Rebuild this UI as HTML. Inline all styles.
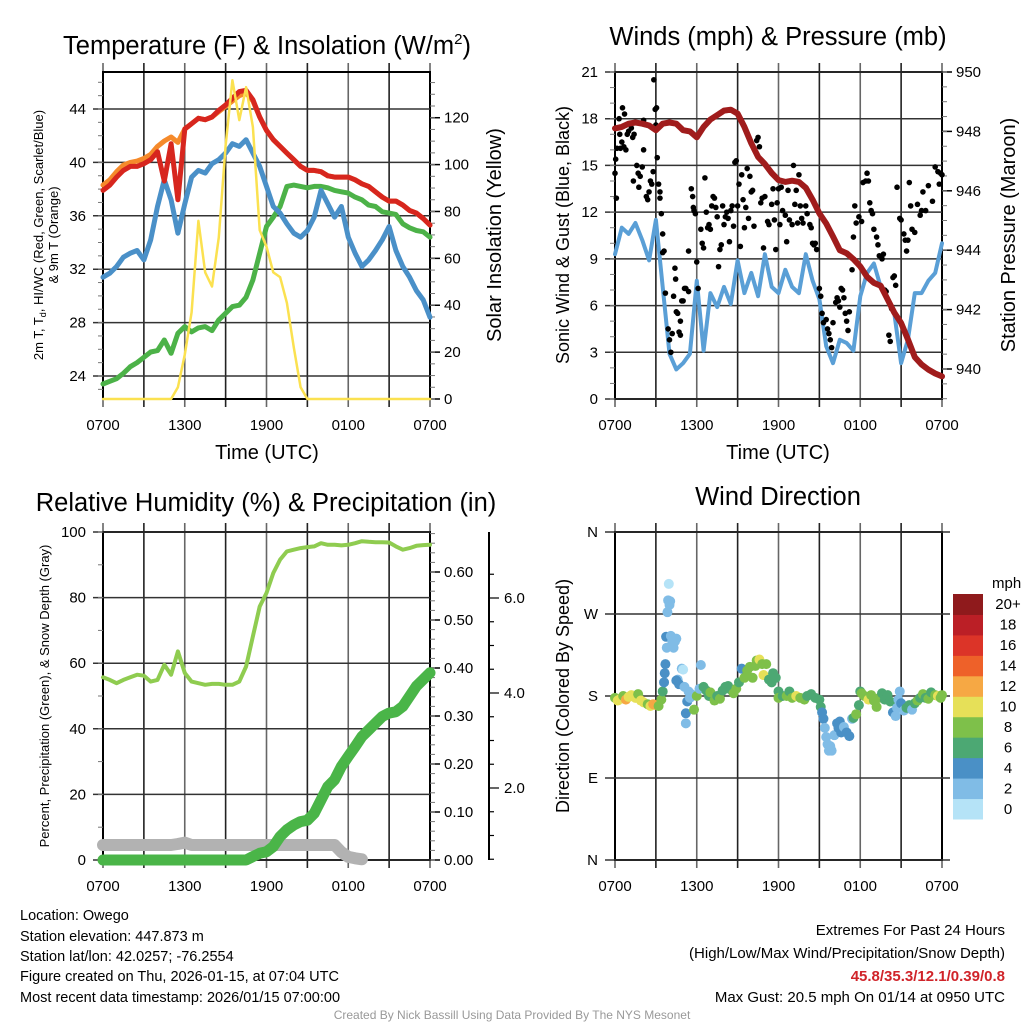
<!DOCTYPE html>
<html><head><meta charset="utf-8"><style>
html,body{margin:0;padding:0;background:#fff;}
svg{display:block;font-family:"Liberation Sans",sans-serif;}
</style></head><body>
<svg id="c" width="1024" height="1024" viewBox="0 0 1024 1024" xmlns="http://www.w3.org/2000/svg">
<rect width="1024" height="1024" fill="#fff"/>
<text x="267" y="54" font-size="25.5" text-anchor="middle">Temperature (F) &amp; Insolation (W/m<tspan font-size="15" dy="-10">2</tspan><tspan dy="10">)</tspan></text>
<text x="778" y="45" font-size="25.5" text-anchor="middle">Winds (mph) &amp; Pressure (mb)</text>
<text x="266" y="511" font-size="25.5" text-anchor="middle">Relative Humidity (%) &amp; Precipitation (in)</text>
<text x="778" y="505" font-size="25.5" text-anchor="middle">Wind Direction</text>
<text x="267" y="459" font-size="20" text-anchor="middle">Time (UTC)</text>
<text x="778" y="459" font-size="20" text-anchor="middle">Time (UTC)</text>
<text transform="translate(43,235) rotate(-90)" font-size="13" text-anchor="middle">2m T, T<tspan font-size="9" dy="3">d</tspan><tspan dy="-3">, HI/WC (Red, Green, Scarlet/Blue)</tspan></text>
<text transform="translate(58,235) rotate(-90)" font-size="13" text-anchor="middle">&amp; 9m T (Orange)</text>
<text transform="translate(501,235) rotate(-90)" font-size="20" text-anchor="middle">Solar Insolation (Yellow)</text>
<text transform="translate(569,235) rotate(-90)" font-size="18" text-anchor="middle">Sonic Wind &amp; Gust (Blue, Black)</text>
<text transform="translate(1015,235) rotate(-90)" font-size="20" text-anchor="middle">Station Pressure (Maroon)</text>
<text transform="translate(49,696) rotate(-90)" font-size="13" text-anchor="middle">Percent, Precipitation (Green), &amp; Snow Depth (Gray)</text>
<text transform="translate(569,696) rotate(-90)" font-size="18" text-anchor="middle">Direction (Colored By Speed)</text>
<text x="992" y="588" font-size="15">mph</text>
<g font-size="14.5">
<text x="20" y="920">Location: Owego</text>
<text x="20" y="941">Station elevation: 447.873 m</text>
<text x="20" y="961">Station lat/lon: 42.0257; -76.2554</text>
<text x="20" y="981">Figure created on Thu, 2026-01-15, at 07:04 UTC</text>
<text x="20" y="1002">Most recent data timestamp: 2026/01/15 07:00:00</text>
</g>
<g font-size="15" text-anchor="end">
<text x="1005" y="935">Extremes For Past 24 Hours</text>
<text x="1005" y="958">(High/Low/Max Wind/Precipitation/Snow Depth)</text>
<text x="1005" y="981" fill="#d0242a" font-weight="bold">45.8/35.3/12.1/0.39/0.8</text>
<text x="1005" y="1002">Max Gust: 20.5 mph On 01/14 at 0950 UTC</text>
</g>
<text x="512" y="1019" font-size="12" fill="#999" text-anchor="middle">Created By Nick Bassill Using Data Provided By The NYS Mesonet</text>
</svg>
<script>
const timeLabels = ["0700","1300","1900","0100","0700"];
const tempRed = [37.9,38.3,38.9,39.4,39.7,39.7,39.9,40.2,40.8,38.6,41.4,37.2,42.5,42.9,43.3,43.2,43.4,43.9,44.3,44.8,45.3,45.4,44.7,43.4,42.4,41.7,41.2,40.7,40.2,39.7,39.4,39.4,39.3,39.0,38.9,38.9,38.9,38.7,38.4,38.2,37.8,37.4,37.1,37.1,36.8,36.4,36.2,35.8,35.3];
const temp9m = [38.3,38.7,39.3,39.8,40.0,40.1,40.3,40.6,41.2,41.6,41.9,41.5,42.5,42.9,43.3,43.2,43.4,43.8,44.2,44.6,45.0,45.2,44.6,43.4,42.4,41.7,41.2,40.7,40.2,39.7,39.4,39.4,39.3,39.0,38.9,38.9,38.9,38.7,38.4,38.2,37.8,37.4,37.1,37.1,36.8,36.4,36.2,35.8,35.3];
const windChill = [31.4,31.7,32.2,32.9,33.2,33.4,32.7,34.2,36.7,38.7,37.2,34.7,36.9,38.9,39.4,39.2,39.9,40.2,40.7,41.4,41.2,41.7,40.7,39.7,38.2,36.7,36.2,35.4,34.7,34.4,34.9,35.9,37.9,36.9,35.9,36.7,34.4,33.2,32.2,32.7,33.4,34.2,35.2,33.4,32.2,31.4,30.4,29.7,28.4];
const dewpoint = [23.4,23.6,23.8,24.2,24.7,25.0,25.4,25.8,25.9,26.7,25.7,27.2,27.7,27.3,27.6,27.7,27.4,28.2,28.7,29.2,29.3,29.9,31.2,33.2,35.2,35.9,36.7,38.2,38.3,38.2,38.1,38.2,38.2,38.1,37.9,37.8,37.7,37.4,37.2,36.8,36.7,36.3,36.2,36.1,35.4,35.1,34.9,34.8,34.4];
const solar = [0,0,0,0,0,0,0,0,0,0,0,5,19,37,76,54,48,69,108,136,119,133,116,72,65,54,52,41,22,5,0,0,0,0,0,0,0,0,0,0,0,0,0,0,0,0,0,0,0];
const windSpeed = [9.3,11,10.6,11.3,10.2,8.9,11.5,7.2,2.9,1.9,2.3,2.9,7.6,3.1,6.8,5.9,7.2,6.1,8.9,6.8,8.1,6.6,9.3,7.2,6.8,8.3,7.2,6.8,9.3,7.6,6.4,3.4,2.3,3.8,3.6,3.1,6.6,8.1,8.7,7.2,6.4,5.5,2.3,3.8,6.8,6.8,7.6,8.1,10];
const pressure = [948.1,948.15,948.26,948.3,948.26,948.2,948.04,948.26,948.3,948.26,948.04,948.0,947.8,948.15,948.4,948.55,948.7,948.73,948.6,948.15,947.6,947.14,946.9,946.6,946.36,946.3,946.34,946.3,946.1,945.7,945.24,944.9,944.46,944.0,943.9,943.7,943.45,943.1,942.9,942.8,942.35,941.9,941.55,941.0,940.4,940.15,939.98,939.85,939.75];
const gustHours = [0,0.05,0.1,0.15,0.3,0.35,0.4,0.5,0.55,0.65,0.7,0.8,0.9,1.0,1.2,1.3,1.4,1.35,1.6,1.7,1.75,1.85,2.0,2.1,2.1,2.3,2.4,2.5,2.6,2.7,2.8,2.85,2.95,3.05,3.0,3.1,3.2,3.3,3.3,3.4,3.5,3.5,3.6,3.7,3.9,4.0,4.1,4.2,4.3,4.4,4.45,4.5,4.6,4.7,4.8,4.8,4.9,5.0,5.1,5.2,5.4,5.4,5.6,5.7,5.75,5.8,5.9,6.0,6.1,6.3,6.4,6.5,6.6,6.7,6.8,6.9,7.0,7.1,7.2,7.3,7.4,7.5,7.6,7.7,7.8,7.9,8.0,8.1,8.2,8.3,8.4,8.5,8.6,8.7,8.8,8.9,9.0,9.1,9.2,9.3,9.4,9.5,9.6,9.7,9.8,9.9,10.0,10.1,10.2,10.4,10.5,10.6,10.7,10.8,10.9,11.0,11.2,11.3,11.5,11.6,11.7,11.8,11.9,12.0,12.1,12.2,12.3,12.5,12.6,12.7,12.8,13.0,13.1,13.2,13.3,13.4,13.5,13.6,13.7,13.8,14.0,14.1,14.3,14.4,14.5,14.6,14.7,14.8,15.0,15.1,15.2,15.3,15.5,15.6,15.7,15.8,15.9,16.0,16.2,16.3,16.4,16.5,16.6,16.7,16.8,16.9,17.0,17.1,17.2,17.4,17.5,17.6,17.7,17.9,18.1,18.2,18.4,18.5,18.6,18.7,18.8,18.9,19.0,19.2,19.3,19.4,19.6,19.7,19.8,19.9,20.1,20.2,20.3,20.4,20.5,20.6,20.7,20.9,21.0,21.2,21.3,21.4,21.5,21.6,21.7,21.8,22.0,22.2,22.4,22.5,22.6,22.8,23.0,23.3,23.5,23.7,23.8,23.9,24.0];
const gustValues = [14.5,15.4,12.9,16.1,18,17,16.1,16.5,18.7,16.2,18.3,16,17,17.2,17.4,16.8,17,14,15,14.5,13.6,14.3,14.9,16,17.9,13,12.8,13.3,14,13.8,14.6,20.5,18.6,18.7,17.6,15.5,13.8,13.3,12.9,11.9,10.6,9.4,9.5,6.8,4.5,3.8,3.0,4.2,6.6,8.4,7.7,5.6,5.5,4.3,4.1,5,6.3,6.3,7.1,7.1,6.9,9.5,13.5,13,12.3,12.1,11.9,8.8,7.1,10.9,10,9.7,14.2,12,11,11.2,10.9,12.4,13,12.9,12.3,11.7,8.5,9.6,9.9,12.4,11.2,11.7,12,11.6,10.1,12.1,12.4,11.1,15.2,15.3,12.4,13.8,9.8,14.4,12.8,11,12.3,14.8,11.6,14.3,13.3,13.4,11.1,16.6,16.8,16.2,12.6,12.9,9.7,13,11.4,11.2,12.5,13.5,11.5,9.6,12.6,13.5,11.2,13.6,12.1,11.8,10.1,13.4,11.5,11.2,15,12.5,13.4,11.3,14.4,12.4,11.6,11.3,12.4,11.9,11.2,11,10,9.9,10,9.6,7.1,6.6,5.5,4.9,5.1,4.5,4.2,3.8,3.3,4.9,6.2,6.5,6.3,5.9,7.1,7,6.5,5.5,5,4.4,5.6,8.3,10.4,12.4,11.3,11.7,11.4,13.9,14,14.5,14,12.6,12.1,11.9,10.9,10.4,9.9,9.2,9,9.3,7,6.9,4.1,3.7,5.8,7.8,7.9,7.3,13.6,11.6,11.5,10.6,10.2,9.5,10.2,13.9,12.4,10.9,10.7,12.5,11.8,12.1,13.3,12.1,13.7,12.7,14.9,14.6,13.8,14.5,14.4];
const relHumidity = [55.7,54.9,53.9,54.9,55.7,56.5,56.2,54.4,54.9,59.5,56.5,63.6,57,54.4,53.9,53.4,53.7,53.7,53.4,53.4,54.4,59,68.2,77.3,81.4,87.5,91.6,94.1,94.6,95.1,95.4,95.6,96.6,96.1,96.1,95.9,96.1,96.6,97.2,97,96.9,96.9,96.8,95.6,94.6,95.1,95.8,96,96.1];
const precip = [0,0,0,0,0,0,0,0,0,0,0,0,0,0,0,0,0,0,0,0,0,0,0.007,0.014,0.017,0.028,0.049,0.063,0.073,0.08,0.083,0.097,0.125,0.153,0.167,0.195,0.216,0.236,0.257,0.271,0.285,0.299,0.306,0.309,0.32,0.341,0.362,0.376,0.39];
const snowDepth = [0.8,0.8,0.8,0.8,0.8,0.8,0.8,0.8,0.8,0.8,0.8,0.82,0.85,0.8,0.8,0.8,0.8,0.8,0.8,0.8,0.8,0.8,0.8,0.8,0.8,0.8,0.8,0.8,0.8,0.8,0.8,0.8,0.8,0.8,0.8,0.65,0.55,0.52,0.5];
const dirHours = [0,0.2,0.4,0.6,0.8,1.0,1.2,1.5,1.7,1.9,2.1,2.4,2.6,2.8,3.0,3.2,3.4,3.5,3.6,3.65,3.7,3.75,3.8,3.85,3.9,3.95,4.0,4.05,4.1,4.2,4.3,4.4,4.5,4.6,4.5,4.7,4.9,5.0,5.1,5.2,5.3,5.2,5.4,5.5,5.6,5.8,6.0,6.2,6.3,6.5,6.7,6.9,7.0,7.3,7.5,7.7,7.9,8.1,8.3,8.5,8.7,8.9,9.1,9.3,9.5,9.7,9.9,10.1,10.3,10.4,10.6,10.8,10.9,11.1,11.3,11.5,11.6,11.8,12.0,12.0,12.3,12.6,12.8,13.0,13.3,13.6,13.9,14.1,14.4,14.7,15.0,15.1,15.2,15.3,15.4,15.5,15.6,15.7,15.8,15.9,16.1,16.3,16.4,16.5,16.6,16.8,17.0,17.2,17.4,17.5,17.7,17.9,18.0,18.1,18.3,18.6,18.8,19.0,19.2,19.4,19.6,19.8,20.0,20.2,20.4,20.6,20.7,20.8,20.9,21.0,21.2,21.4,21.6,21.8,22.0,22.2,22.4,22.6,22.8,23.0,23.2,23.5,23.7,23.9,24.0];
const dirDegrees = [178,175,177,180,176,179,181,178,182,175,173,171,169,171,170,169,176,185,195,205,215,245,233,272,285,303,280,284,246,240,233,240,243,198,197,193,210,209,190,161,174,150,185,178,182,165,180,188,214,190,186,180,184,175,180,177,186,190,191,187,183,188,195,210,200,208,212,200,213,219,220,215,203,215,198,195,205,200,185,178,180,180,185,178,180,178,176,180,182,178,176,168,162,155,145,135,127,120,125,120,137,150,145,152,140,146,140,136,155,156,160,170,185,183,180,176,181,175,168,178,183,176,181,174,162,158,167,176,185,172,164,167,170,165,172,175,178,182,178,177,184,181,180,178,181];
const dirSpeeds = [9,10,10,8,13,10,10,11,8,10,10,8,10,12,13,8,8,6,4,4,4,4,3,3,2,1,3,2,3,2,2,2,2,2,4,4,2,1,2,4,4,2,3,2,3,8,8,3,3,6,6,6,8,8,6,8,6,6,6,6,8,8,6,4,8,8,8,8,8,8,10,8,10,8,6,6,6,6,6,8,6,8,6,8,10,8,8,6,6,6,6,6,4,4,2,2,2,2,2,2,2,4,4,4,4,2,4,4,2,6,8,6,6,8,8,10,8,8,8,8,6,6,6,6,4,2,2,2,2,4,2,6,6,2,6,8,6,8,6,8,6,8,10,8,8];
const colorbarLabels = ["0","2","4","6","8","10","12","14","16","18","20+"];
const colorbarColors = ["#b5e3f7","#80bce6","#4a90c6","#4ca873","#7ec04a","#e6e058","#f6a844","#ee6129","#dc3428","#bb1f26","#8f1a1c"];

const NS = "http://www.w3.org/2000/svg";
const svg = document.getElementById('c');
function mk(tag, attrs, parent){
  const el = document.createElementNS(NS, tag);
  for (const k in attrs) el.setAttribute(k, attrs[k]);
  (parent||svg).appendChild(el);
  return el;
}
const P = {
  t: {x0:103,x1:430,y0:72,y1:399},
  w: {x0:615,x1:942,y0:72,y1:399},
  r: {x0:103,x1:430,y0:532,y1:860},
  d: {x0:615,x1:942,y0:532,y1:860}
};
function xH(p,h){ return p.x0 + h/24*(p.x1-p.x0); }
const yTemp = v => 376 - (v-24)*13.35;
const ySolar = v => 399 - v*2.344;
const yWind = v => 399 - v*(327/21);
const yPres = v => 369 - (v-940)*29.7;
const yRH = v => 860 - v*3.28;
const yPrecip = v => 860 - v*480;
const ySnow = v => 883 - v*47.5;
const yDir = v => 860 - v/360*328;

function frame(p, key){
  const g = mk('g',{});
  
  
  for (let k=0;k<=8;k++){
    const x = p.x0 + k*(p.x1-p.x0)/8;
    const l = mk('line',{x1:x,x2:x,y1:p.y0-9,y2:p.y1+8,stroke:(k%2? '#222':'#666'),'stroke-width':1.6},g);
    
    
  }
  timeLabels.forEach((t,i)=>{
    const tx = mk('text',{x:xH(p,i*6),y:p.y1+31,'font-size':15,'text-anchor':'middle'});
    tx.textContent = t;
    
    
  });
  const r = mk('rect',{x:p.x0,y:p.y0,width:p.x1-p.x0,height:p.y1-p.y0,fill:'none',stroke:'#000','stroke-width':2});
  
  
}
function hgrid(p,key,vals,yf,labelFn,side,gridOn,minorStep,minorRange){
  vals.forEach(v=>{
    const y = yf(v);
    if (gridOn){
      const l = mk('line',{x1:p.x0-10,x2:p.x1,y1:y,y2:y,stroke:'#333','stroke-width':1.5});
      
      
    } else {
      const l = mk('line',{x1:p.x1,x2:p.x1+10,y1:y,y2:y,stroke:'#000','stroke-width':1.5});
      
      
    }
    const tx = mk('text',{x: side==='l'? p.x0-17 : p.x1+14, y:y+5,'font-size':15,'text-anchor': side==='l'?'end':'start'});
    tx.textContent = labelFn(v);
    
    
  });
  if (minorStep){
    for (let v=minorRange[0]; v<=minorRange[1]+1e-9; v+=minorStep){
      const y = yf(v);
      if (y<p.y0-1||y>p.y1+1) continue;
      const x1 = side==='l'? p.x0-5 : p.x1;
      const l = mk('line',{x1:x1,x2:x1+5,y1:y,y2:y,stroke:'#777','stroke-width':1});
      
      
    }
  }
}
function line(p, arr, yf, color, w, name){
  const pts = arr.map((v,i)=>xH(p,i/2).toFixed(1)+','+yf(v).toFixed(1)).join(' ');
  const el = mk('polyline',{points:pts,fill:'none',stroke:color,'stroke-width':w,'stroke-linejoin':'round','stroke-linecap':'round'});
  
  
  return el;
}

frame(P.t,'temp');
hgrid(P.t,'temp',[24,28,32,36,40,44],yTemp,v=>String(v),'l',true,1,[23,46]);
hgrid(P.t,'solar',[0,20,40,60,80,100,120],ySolar,v=>String(v),'r',false,5,[0,135]);
line(P.t,temp9m,yTemp,'#f58a2b',5,'temp-9m-line');
line(P.t,dewpoint,yTemp,'#4cb248',5,'dewpoint-line');
line(P.t,windChill,yTemp,'#4a90c8',5,'wind-chill-line');
line(P.t,tempRed,yTemp,'#d7261e',5,'temp-2m-line');
line(P.t,solar,ySolar,'#fbe150',2.5,'solar-line');

frame(P.w,'wind');
hgrid(P.w,'wind',[0,3,6,9,12,15,18,21],yWind,v=>String(v),'l',true,1,[0,21]);
hgrid(P.w,'pressure',[940,942,944,946,948,950],yPres,v=>String(v),'r',false,0.5,[939,950]);
line(P.w,windSpeed,yWind,'#5a9fd6',4,'wind-speed-line');
gustHours.forEach((h,i)=>{
  const c = mk('circle',{cx:xH(P.w,h),cy:yWind(gustValues[i]),r:2.8,fill:'#000'});
  
  
});
line(P.w,pressure,yPres,'#a01c1c',6,'pressure-line');

frame(P.r,'rh');
hgrid(P.r,'rh',[0,20,40,60,80,100],yRH,v=>String(v),'l',true,10,[0,100]);
hgrid(P.r,'precip',[0,0.1,0.2,0.3,0.4,0.5,0.6],yPrecip,v=>v.toFixed(2),'r',false,0.02,[0,0.68]);
{
  const ax = mk('line',{x1:489,x2:489,y1:532,y2:860,stroke:'#000','stroke-width':2});
  
  
  [0.5,1,1.5,2,2.5,3,3.5,4,4.5,5,5.5,6,6.5].forEach(v=>{
    const y = ySnow(v);
    if (y<532||y>860) return;
    const major = (v%2===0);
    const t = mk('line',{x1:489,x2:major?499:494,y1:y,y2:y,stroke:'#000','stroke-width':1.2});
    
    
    if (major){
      const tx = mk('text',{x:504,y:y+5,'font-size':15});
      tx.textContent = v.toFixed(1);
      
      
    }
  });
}
line(P.r,snowDepth,ySnow,'#b2b2b2',12,'snow-depth-line');
line(P.r,precip,yPrecip,'#4ab548',11,'precip-line');
line(P.r,relHumidity,yRH,'#8fcc50',4,'rh-line');

frame(P.d,'dir');
hgrid(P.d,'dir',[0,90,180,270,360],yDir,v=>['N','E','S','W','N'][v/90],'l',true,0,[0,0]);
{
  const ext = mk('g',{});
  
  
  [0,90,180,270,360].forEach(v=>{
    const l = mk('line',{x1:942,x2:950,y1:yDir(v),y2:yDir(v),stroke:'#333','stroke-width':1.5},ext);
    
    
  });
}
dirHours.forEach((h,i)=>{
  const s = dirSpeeds[i];
  const idx = Math.min(10, Math.floor(s/2));
  const c = mk('circle',{cx:xH(P.d,h),cy:yDir(dirDegrees[i]),r:5,fill:colorbarColors[idx]});
  
  
});
colorbarLabels.forEach((lab,i)=>{
  const bh = 225/11;
  const y = 819 - (i+1)*bh;
  const r = mk('rect',{x:953,y:y,width:30,height:bh+0.5,fill:colorbarColors[i]});
  
  
  const tx = mk('text',{x:1008,y:y+bh/2+5,'font-size':15,'text-anchor':'middle'});
  tx.textContent = lab;
  
  
});
</script>
</body></html>
